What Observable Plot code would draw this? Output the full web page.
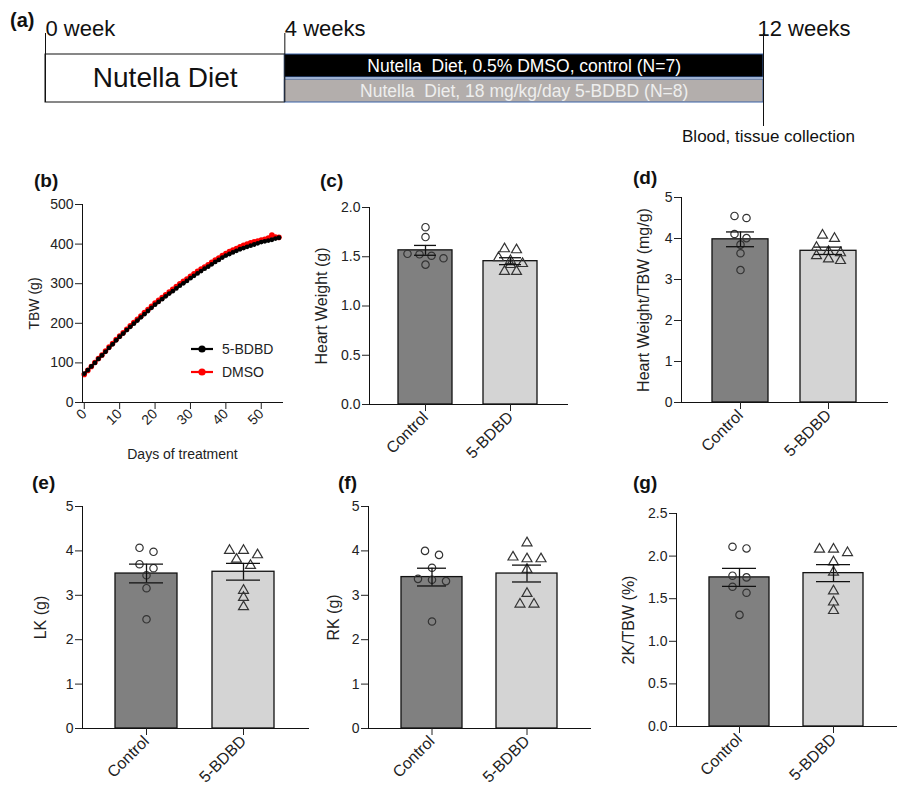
<!DOCTYPE html>
<html>
<head>
<meta charset="utf-8">
<script src="https://cdn.jsdelivr.net/npm/d3@7"></script>
<script src="https://cdn.jsdelivr.net/npm/@observablehq/plot@0.6"></script>
<style>
  body { margin: 0; background: #fff; }
  #fig { position: relative; width: 899px; height: 792px; overflow: hidden; background: #fff;
         font-family: "Liberation Sans", Arial, sans-serif; color: #222; }
  #fig svg { position: absolute; overflow: visible; }
  #fig svg text { white-space: pre; }
  .lab { position: absolute; font-weight: bold; font-size: 19px; line-height: 1; color: #111; }
  .leg { position: absolute; font-size: 14px; line-height: 16px; height: 16px; display: flex; align-items: center; color: #222; }
  .leg svg { position: static !important; margin-right: 8px; }
</style>
</head>
<body>
<div id="fig"></div>
<script>
// ---------------- DATA ----------------
// (a) timeline
const weekMarks = [0, 4, 12];
const weekLabels = ["0 week", "4 weeks", "12 weeks"];
const preDietLabel = "Nutella Diet";
const treatRows = ["control", "bdbd"];
const treatLabels = ["Nutella  Diet, 0.5% DMSO, control (N=7)", "Nutella  Diet, 18 mg/kg/day 5-BDBD (N=8)"];
const treatStartWeek = 4, treatEndWeek = 12;
const collectionLabel = "Blood, tissue collection";

// (b) body weight over treatment days
const days = [0,1,2,3,4,5,6,7,8,9,10,11,12,13,14,15,16,17,18,19,20,21,22,23,24,25,26,27,28,29,30,31,32,33,34,35,36,37,38,39,40,41,42,43,44,45,46,47,48,49,50,51,52,53,54,55];
const tbwBDBD = [73,82,91,100,110,119,128,138,147,157,166,174,183,191,199,207,215,223,231,239,247,254,261,268,275,281,288,295,301,307,314,320,326,332,338,343,349,355,360,366,371,375,379,383,387,390,393,396,399,402,405,407,409,411,414,416];
const tbwDMSO  = [71,81,91,101,111,120,130,140,149,159,168,176,185,194,202,210,218,227,235,243,251,258,265,272,279,286,293,300,306,312,319,325,331,337,342,348,354,360,365,371,376,381,385,389,393,397,400,403,406,408,410,412,415,423,418,417];
const seriesNames = ["5-BDBD", "DMSO"];
const tbwTicks = [0, 100, 200, 300, 400, 500];
const dayTicks = [0, 10, 20, 30, 40, 50];

// groups for bar panels
const groups = ["Control", "5-BDBD"];

// (c) Heart weight (g)
const hwControl = [1.80, 1.70, 1.53, 1.51, 1.525, 1.485, 1.42];
const hwBDBD    = [1.57, 1.58, 1.43, 1.46, 1.49, 1.42, 1.35, 1.35];
const hwMean = [1.565, 1.455];
const hwSem  = [0.05, 0.035];
const hwTicks = [0, 0.5, 1.0, 1.5, 2.0];

// (d) Heart weight / TBW (mg/g)
const hwtControl = [4.55, 4.50, 4.11, 4.01, 3.85, 3.64, 3.23];
const hwtBDBD    = [4.08, 4.00, 3.65, 3.78, 3.68, 3.46, 3.58, 3.50];
const hwtMean = [3.98, 3.70];
const hwtSem  = [0.18, 0.09];
const intTicks = [0, 1, 2, 3, 4, 5];

// (e) LK (g)
const lkControl = [4.07, 3.98, 3.70, 3.61, 3.45, 3.16, 2.46];
const lkBDBD    = [4.01, 4.01, 3.91, 3.81, 3.67, 3.11, 2.95, 2.74];
const lkMean = [3.49, 3.53];
const lkSem  = [0.21, 0.19];

// (f) RK (g)
const rkControl = [4.00, 3.91, 3.62, 3.37, 3.32, 3.35, 2.41];
const rkBDBD    = [4.18, 3.82, 3.86, 3.82, 3.58, 3.04, 2.80, 2.80];
const rkMean = [3.41, 3.49];
const rkSem  = [0.20, 0.19];

// (g) 2K/TBW (%)
const ktControl = [2.09, 2.11, 1.75, 1.77, 1.64, 1.57, 1.31];
const ktBDBD    = [2.08, 2.04, 2.08, 1.93, 1.81, 1.59, 1.46, 1.36];
const ktMean = [1.75, 1.80];
const ktSem  = [0.105, 0.10];
const ktTicks = [0, 0.5, 1.0, 1.5, 2.0, 2.5];

// ---------------- RENDER ----------------
const FONT = '"Liberation Sans", Arial, sans-serif';
const fig = document.getElementById("fig");
function place(el, left, top) { el.style.left = left + "px"; el.style.top = top + "px"; fig.appendChild(el); }

// (a) timeline
const weekTable = weekMarks.map((w, i) => ({week: w, label: weekLabels[i]}));
const preDiet = [{start: weekMarks[0], end: weekMarks[1], label: preDietLabel}];
const treat = treatRows.map((r, i) => ({row: r, start: treatStartWeek, end: treatEndWeek, label: treatLabels[i]}));
const collection = [{week: weekMarks[2], label: collectionLabel}];
const mid = d => (d.start + d.end) / 2;

const pa = Plot.plot({
  width: 899, height: 160, marginLeft: 45, marginRight: 136, marginTop: 54, marginBottom: 58,
  style: {fontFamily: FONT, background: "transparent", color: "#111", overflow: "visible"},
  x: {domain: [0, 12], axis: null},
  y: {domain: treatRows, axis: null, paddingInner: 0.08, paddingOuter: 0},
  color: {domain: treatRows, range: ["#000000", "#b3aeac"]},
  marks: [
    Plot.rect(preDiet, {x1: "start", x2: "end", fill: "white", stroke: "#111", strokeWidth: 1}),
    Plot.barX(treat, {x1: "start", x2: "end", y: "row", fill: "row", stroke: "#3b63a6", strokeWidth: 1}),
    Plot.text(preDiet, {x: mid, text: "label", frameAnchor: "middle", fontSize: 28, fill: "#111"}),
    Plot.text(treat.slice(0, 1), {x: mid, y: "row", text: "label", fontSize: 17.5, fill: "#ffffff"}),
    Plot.text(treat.slice(1), {x: mid, y: "row", text: "label", fontSize: 17.5, fill: "#eeeeee"}),
    Plot.ruleX(weekTable.slice(0, 2), {x: "week", insetTop: -21, stroke: "#111", strokeWidth: 1}),
    Plot.ruleX(weekTable.slice(2), {x: "week", insetTop: -21, insetBottom: -24, stroke: "#111", strokeWidth: 1}),
    Plot.text(weekTable.slice(0, 2), {x: "week", text: "label", frameAnchor: "top", dy: -34, textAnchor: "start", fontSize: 22, fill: "#111"}),
    Plot.text(weekTable.slice(2), {x: "week", text: "label", frameAnchor: "top", dy: -34, dx: -6, textAnchor: "start", fontSize: 22, fill: "#111"}),
    Plot.text(collection, {x: "week", text: "label", frameAnchor: "bottom", dy: 39, dx: 5, fontSize: 17, fill: "#111"})
  ]
});
place(pa, 0, 0);

// (b) TBW line chart
const tbwData = days.flatMap((d, i) => [
  {day: d, value: tbwBDBD[i], series: seriesNames[0]},
  {day: d, value: tbwDMSO[i], series: seriesNames[1]}
]);
const bd = tbwData.filter(d => d.series === seriesNames[0]);
const dm = tbwData.filter(d => d.series === seriesNames[1]);
const pb = Plot.plot({
  width: 268, height: 275, marginLeft: 60, marginTop: 14, marginRight: 8, marginBottom: 63,
  style: {fontFamily: FONT, background: "transparent", color: "#222", overflow: "visible"},
  x: {domain: [-0.5, 56]},
  y: {domain: [0, 500]},
  marks: [
    Plot.line(dm, {x: "day", y: "value", stroke: "#ff0000", strokeWidth: 2.2}),
    Plot.dot(dm, {x: "day", y: "value", r: 2.8, fill: "#ff0000"}),
    Plot.line(bd, {x: "day", y: "value", stroke: "#000", strokeWidth: 1.8}),
    Plot.dot(bd, {x: "day", y: "value", r: 2.4, fill: "#000"}),
    Plot.frame({anchor: "left", stroke: "#111"}),
    Plot.frame({anchor: "bottom", stroke: "#111"}),
    Plot.axisY({ticks: tbwTicks, tickSize: 7, tickPadding: 2, fontSize: 14, label: "TBW (g)", labelAnchor: "center", labelOffset: 53, labelArrow: "none"}),
    Plot.axisX({ticks: dayTicks, tickRotate: -45, tickSize: 7, tickPadding: 2, fontSize: 14, label: "Days of treatment", labelAnchor: "center", labelOffset: 56, labelArrow: "none"})
  ]
});
place(pb, 22, 190);

// legend for (b)
function legendRow(color, name, left, top) {
  const row = document.createElement("div");
  row.className = "leg";
  row.innerHTML = `<svg width="24" height="12"><line x1="1" y1="6" x2="23" y2="6" stroke="${color}" stroke-width="2.2"/><circle cx="12" cy="6" r="3.6" fill="${color}"/></svg>${name}`;
  place(row, left, top);
}
legendRow("#000", seriesNames[0], 190, 341);
legendRow("#ff0000", seriesNames[1], 190, 364);

// scatter column layout (rows of near-equal values spread symmetrically, like the original)
function swarmColumns(values, pxPerUnit, thr) {
  const order = values.map((v, i) => ({v, i})).sort((a, b) => b.v - a.v);
  const cols = new Array(values.length);
  let row = [];
  const flush = () => { row.forEach((o, k) => { cols[o.i] = k - (row.length - 1) / 2; }); row = []; };
  for (const o of order) {
    if (row.length && (row[0].v - o.v) * pxPerUnit > thr) flush();
    row.push(o);
  }
  flush();
  return cols;
}

// bar panels
function barPanel(o) {
  const pxPerUnit = (o.height - o.mT - o.mB) / o.max;
  const pts = [];
  [o.ctrl, o.bdbd].forEach((vals, gi) => {
    const cols = swarmColumns(vals, pxPerUnit, 6.5);
    vals.forEach((v, i) => pts.push({group: groups[gi], value: v, col: cols[i]}));
  });
  const colValues = Array.from(new Set(pts.map(p => p.col)));
  const summary = groups.map((g, i) => ({group: g, mean: o.means[i], lo: o.means[i] - o.sems[i], hi: o.means[i] + o.sems[i]}));
  const sw = o.spacing || 13;
  return Plot.plot({
    width: o.width, height: o.height,
    marginLeft: o.mL, marginTop: o.mT, marginRight: o.mR, marginBottom: o.mB,
    style: {fontFamily: FONT, background: "transparent", color: "#222", overflow: "visible"},
    x: {domain: groups, paddingInner: 0.36, paddingOuter: 0.34},
    y: {domain: [0, o.max]},
    color: {domain: groups, range: ["#808080", "#d4d4d4"]},
    symbol: {domain: groups, range: ["circle", "triangle"]},
    marks: [
      Plot.barY(summary, {x: "group", y: "mean", fill: "group", stroke: "#111", strokeWidth: 1.3}),
      ...colValues.map(c => Plot.dot(pts.filter(p => p.col === c), {
        x: "group", y: "value", dx: c * sw, symbol: "group", r: 3.7,
        stroke: "#333", fill: "none", strokeWidth: 1.2})),
      Plot.ruleX(summary, {x: "group", y1: "lo", y2: "hi", stroke: "#111", strokeWidth: 1.3}),
      Plot.tickY(summary, {x: "group", y: "lo", inset: o.capInset, stroke: "#111", strokeWidth: 1.3}),
      Plot.tickY(summary, {x: "group", y: "hi", inset: o.capInset, stroke: "#111", strokeWidth: 1.3}),
      Plot.frame({anchor: "left", stroke: "#111"}),
      Plot.frame({anchor: "bottom", stroke: "#111"}),
      Plot.axisY({ticks: o.ticks, tickFormat: o.fmt, tickSize: 7, tickPadding: 2, fontSize: 14, label: null}),
      Plot.axisY({ticks: [], label: o.label, labelAnchor: "center", labelOffset: o.labelOffset, fontSize: 16, labelArrow: "none"}),
      Plot.axisX({tickRotate: -45, tickSize: 7, tickPadding: 3, fontSize: 16, label: null})
    ]
  });
}

place(barPanel({width: 275, height: 284, mL: 69, mT: 17, mR: 8, mB: 70, capInset: 16, spacing: 12,
  ctrl: hwControl, bdbd: hwBDBD, means: hwMean, sems: hwSem, max: 2.0, ticks: hwTicks, fmt: ".1f",
  label: "Heart Weight (g)", labelOffset: 54}), 300, 190);

place(barPanel({width: 295, height: 287, mL: 81, mT: 12, mR: 8, mB: 70, capInset: 14, spacing: 12,
  ctrl: hwtControl, bdbd: hwtBDBD, means: hwtMean, sems: hwtSem, max: 5, ticks: intTicks, fmt: "d",
  label: "Heart Weight/TBW (mg/g)", labelOffset: 44}), 600, 185);

place(barPanel({width: 292, height: 297, mL: 60, mT: 11, mR: 6, mB: 64, capInset: 14, spacing: 14,
  ctrl: lkControl, bdbd: lkBDBD, means: lkMean, sems: lkSem, max: 5, ticks: intTicks, fmt: "d",
  label: "LK (g)", labelOffset: 48}), 22, 495);

place(barPanel({width: 286, height: 297, mL: 58, mT: 11, mR: 6, mB: 64, capInset: 16, spacing: 14,
  ctrl: rkControl, bdbd: rkBDBD, means: rkMean, sems: rkSem, max: 5, ticks: intTicks, fmt: "d",
  label: "RK (g)", labelOffset: 41}), 310, 495);

place(barPanel({width: 293, height: 292, mL: 70, mT: 13, mR: 3, mB: 66, capInset: 13, spacing: 14,
  ctrl: ktControl, bdbd: ktBDBD, means: ktMean, sems: ktSem, max: 2.5, ticks: ktTicks, fmt: ".1f",
  label: "2K/TBW (%)", labelOffset: 54}), 606, 500);

// panel letters
function letter(t, left, top, size) {
  const d = document.createElement("div");
  d.className = "lab"; d.textContent = t;
  if (size) d.style.fontSize = size + "px";
  place(d, left, top);
}
letter("(a)", 10, 10, 20);
letter("(b)", 34, 171);
letter("(c)", 320, 171);
letter("(d)", 633, 168);
letter("(e)", 32, 473);
letter("(f)", 338, 473);
letter("(g)", 633, 473);
</script>
</body>
</html>
